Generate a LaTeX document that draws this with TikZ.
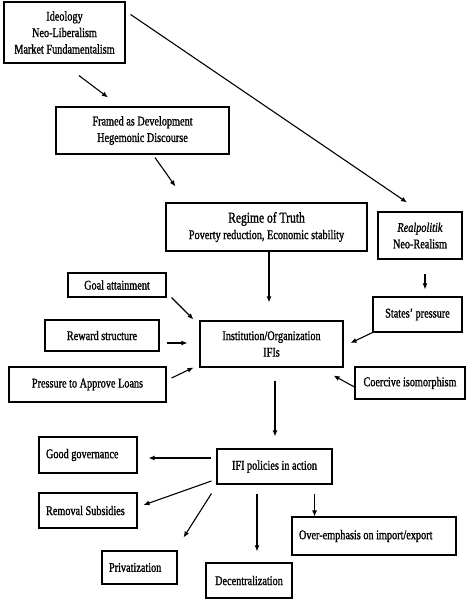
\documentclass[tikz,border=0pt]{standalone}
\usepackage{fontspec}
\setmainfont[FakeStretch=0.77, FakeBold=1.2]{Liberation Serif}
\usetikzlibrary{arrows.meta}
\tikzset{
	box/.style={draw, line width=1.1pt, inner sep=0pt, align=center, font=\fontsize{13.3}{16.5}\selectfont},
	lbox/.style={box, align=flush left, inner xsep=7pt},
	arr/.style={line width=1.1pt, -{Latex[length=6pt,width=5pt]}}
}

\begin{document}
\begin{tikzpicture}[x=1pt, y=-1pt]
			%%%%% START %%%%%
			
			\useasboundingbox (0, 0) rectangle (471, 600);
			
			\node[box, minimum width=121pt, minimum height=61pt] (ideo) at (64.5, 32.5) {Ideology\\Neo-Liberalism\\Market Fundamentalism};
			\node[box, minimum width=173pt, minimum height=47pt] (framed) at (142.5, 130.5) {Framed as Development\\Hegemonic Discourse};
			\node[box, minimum width=201pt, minimum height=48pt] (regime) at (266.5, 227) {{\fontsize{15}{17}\selectfont Regime of Truth}\\Poverty reduction, Economic stability};
			\node[box, minimum width=84pt, minimum height=47pt] (real) at (420, 235.5) {\textit{Realpolitik}\\Neo-Realism};
			
			\node[box, minimum width=98pt, minimum height=24pt] (goal) at (117, 285) {Goal attainment};
			\node[box, minimum width=114pt, minimum height=31pt] (reward) at (102, 335.5) {Reward structure};
			\node[box, minimum width=157pt, minimum height=35pt] (press) at (87.5, 384.5) {Pressure to Approve Loans};
			\node[box, minimum width=143pt, minimum height=46pt] (ifi) at (271.5, 344) {Institution/Organization\\IFIs};
			\node[box, minimum width=89pt, minimum height=35pt] (states) at (417.5, 314.5) {States' pressure};
			\node[box, minimum width=110pt, minimum height=32pt] (coerc) at (410, 383) {Coercive isomorphism};
			
			\node[box, minimum width=115pt, minimum height=35pt] (policy) at (274.5, 466.5) {IFI policies in action};
			\node[lbox, text width=84pt, minimum height=36pt] (good) at (88, 455) {Good governance};
			\node[lbox, text width=84pt, minimum height=35pt] (removal) at (88, 510.5) {Removal Subsidies};
			\node[lbox, text width=61pt, minimum height=33pt] (priv) at (139.5, 567.5) {Privatization};
			\node[box, minimum width=86pt, minimum height=35pt] (decen) at (249, 580.5) {Decentralization};
			\node[lbox, text width=150pt, minimum height=38pt] (over) at (374, 536) {Over-emphasis on import/export};
			
			\draw[arr] ([xshift=14.5pt, yshift=-12pt]ideo.south) -- ([xshift=-34.5pt, yshift=9pt]framed.north);
			\draw[arr] ([xshift=5pt, yshift=-13pt]ideo.north east) -- ([xshift=-13pt, yshift=9pt]real.north);
			\draw[arr] ([xshift=12.5pt, yshift=-3pt]framed.south) -- ([xshift=10pt, yshift=16pt]regime.north west);
			\draw[arr, shorten >=18pt] ([xshift=2.5pt]regime.south) -- ([xshift=2.5pt]regime.south |- ifi.north);
			\draw[arr, shorten <=14pt, shorten >=7pt] ([xshift=5pt]real.south) -- ([xshift=5pt]real.south |- states.north);
			
			\draw[arr] ([xshift=5pt]goal.south east) -- ([xshift=-6pt, yshift=1pt]ifi.north west);
			\draw[arr] ([xshift=7pt, yshift=-7.5pt]reward.east) -- ([xshift=-12pt, yshift=1pt]ifi.west);
			\draw[arr] ([xshift=5pt, yshift=6.5pt]press.east) -- ([xshift=-6pt]ifi.south west);
			\draw[arr] (states.south west) -- ([xshift=7pt, yshift=1pt]ifi.east);
			\draw[arr] ([yshift=-4pt]coerc.west) -- ([xshift=-10pt, yshift=-8pt]ifi.south east);
			
			\draw[arr, shorten <=13pt, shorten >=12pt] ([xshift=3.5pt]ifi.south) -- ([xshift=3.5pt]ifi.south |- policy.north);
			
			\draw[arr] ([xshift=-5pt, yshift=8.5pt]policy.west) -- ([xshift=11pt, yshift=-3pt]good.east);
			\draw[arr] ([xshift=-5pt, yshift=-14.5pt]policy.west) -- ([xshift=6pt, yshift=5.5pt]removal.east);
			\draw[arr] ([xshift=-5pt, yshift=-9pt]policy.south west) -- ([xshift=6pt, yshift=13pt]priv.north east);
			\draw[arr, shorten <=9pt, shorten >=11pt] ([xshift=-17.5pt]policy.south) -- ([xshift=-17.5pt]policy.south |- decen.north);
			\draw[arr, shorten <=9pt] ([xshift=-18pt]policy.south east) -- ([xshift=-18pt]policy.south east |- over.north);
			
			%%%%% END %%%%%
\end{tikzpicture}
\end{document}
